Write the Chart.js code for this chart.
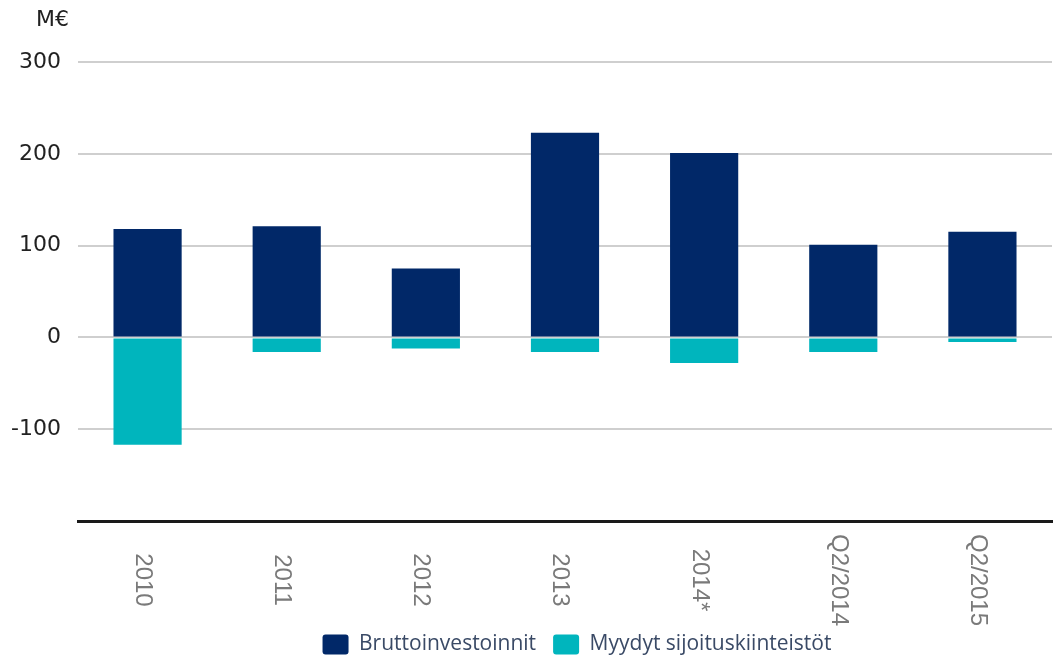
<!DOCTYPE html>
<html>
<head>
<meta charset="utf-8">
<script src="https://cdn.jsdelivr.net/npm/chart.js@4"></script>
<style>
  html, body { margin: 0; padding: 0; background: #fff; }
  #wrap { width: 1058px; height: 657px; }
</style>
</head>
<body>
<div id="wrap"><canvas id="investChart"></canvas></div>
<script>
const categories = ['2010', '2011', '2012', '2013', '2014*', 'Q2/2014', 'Q2/2015'];
const grossInvestments = [118, 121, 75, 223, 201, 101, 115];
const soldProperties = [-117, -16, -12, -16, -28, -16, -5];
const yTicks = [300, 200, 100, 0, -100];
const unitLabel = 'M€';

// x labels read top-to-bottom, which Chart.js can't rotate that way
const verticalLabels = {
    id: 'verticalLabels',
    afterLayout(chart) {
        // nudge the legend to sit where the original has it
        const lg = chart.legend;
        lg.left += 51; lg.right += 51;
        lg.top += 8; lg.bottom += 8;
    },
    afterDraw(chart) {
        const ctx = chart.ctx;
        const xScale = chart.scales.x;
        ctx.save();
        ctx.font = '24px "Liberation Sans"';
        ctx.fillStyle = '#7a7a7a';
        ctx.textAlign = 'center';
        ctx.textBaseline = 'middle';
        categories.forEach((label, i) => {
            const x = xScale.getPixelForValue(i) - 5;
            ctx.save();
            ctx.translate(x, 580);
            ctx.rotate(Math.PI / 2);
            ctx.fillText(label, 0, 0);
            ctx.restore();
        });
        ctx.font = '22px "DejaVu Sans"';
        ctx.fillStyle = '#222';
        ctx.textAlign = 'left';
        ctx.fillText(unitLabel, 36, 20);
        ctx.restore();
    }
};

const ctx = document.getElementById('investChart').getContext('2d');
new Chart(ctx, {
    type: 'bar',
    data: {
        labels: categories,
        datasets: [{
            label: 'Bruttoinvestoinnit',
            data: grossInvestments,
            backgroundColor: '#012868',
            barPercentage: 0.49,
            categoryPercentage: 1
        }, {
            label: 'Myydyt sijoituskiinteistöt',
            data: soldProperties,
            backgroundColor: '#00b5bd',
            barPercentage: 0.49,
            categoryPercentage: 1
        }]
    },
    options: {
        responsive: true,
        maintainAspectRatio: false,
        animation: false,
        layout: { padding: { top: 62, right: 6, left: 0, bottom: 0 } },
        scales: {
            x: {
                stacked: true,
                ticks: { display: false },
                grid: { display: false },
                border: { display: true, color: '#1a1a1a', width: 3 },
                afterFit: (s) => { s.height = 88; }
            },
            y: {
                stacked: true,
                min: -200,
                max: 300,
                afterBuildTicks: (s) => { s.ticks = yTicks.concat([-200]).map(v => ({ value: v })); },
                ticks: {
                    padding: 17,
                    color: '#222',
                    font: { family: 'DejaVu Sans', size: 22 },
                    callback: (v) => yTicks.includes(v) ? String(v) : ''
                },
                grid: { color: '#cfcfcf', lineWidth: 2, drawTicks: false },
                border: { display: false },
                afterFit: (s) => { s.width = 78; }
            }
        },
        plugins: {
            legend: {
                position: 'bottom',
                labels: {
                    boxWidth: 26,
                    boxHeight: 20,
                    useBorderRadius: true,
                    borderRadius: 3,
                    padding: 17,
                    color: '#3a4a66',
                    font: { family: 'Open Sans', size: 21 }
                }
            },
            tooltip: { enabled: false }
        }
    },
    plugins: [verticalLabels]
});
</script>
</body>
</html>
